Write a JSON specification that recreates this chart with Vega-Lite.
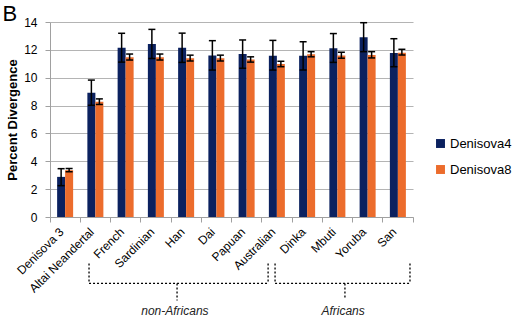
{
  "$schema": "https://vega.github.io/schema/vega-lite/v6.json",
  "autosize": "none",
  "width": 363,
  "height": 195,
  "padding": {"left": 50, "top": 22, "right": 107, "bottom": 109},
  "background": "white",
  "config": {"view": {"stroke": null}, "font": "Liberation Sans"},
  "datasets": {
    "bars": [
      {"pop": "Denisova 3", "series": "Denisova4", "value": 2.88, "lo": 2.25, "hi": 3.47},
      {"pop": "Denisova 3", "series": "Denisova8", "value": 3.36, "lo": 3.25, "hi": 3.48},
      {"pop": "Altai Neandertal", "series": "Denisova4", "value": 8.92, "lo": 8.02, "hi": 9.83},
      {"pop": "Altai Neandertal", "series": "Denisova8", "value": 8.27, "lo": 8.08, "hi": 8.48},
      {"pop": "French", "series": "Denisova4", "value": 12.16, "lo": 11.12, "hi": 13.19},
      {"pop": "French", "series": "Denisova8", "value": 11.47, "lo": 11.27, "hi": 11.7},
      {"pop": "Sardinian", "series": "Denisova4", "value": 12.42, "lo": 11.38, "hi": 13.47},
      {"pop": "Sardinian", "series": "Denisova8", "value": 11.47, "lo": 11.27, "hi": 11.7},
      {"pop": "Han", "series": "Denisova4", "value": 12.16, "lo": 11.1, "hi": 13.2},
      {"pop": "Han", "series": "Denisova8", "value": 11.4, "lo": 11.2, "hi": 11.62},
      {"pop": "Dai", "series": "Denisova4", "value": 11.6, "lo": 10.55, "hi": 12.66},
      {"pop": "Dai", "series": "Denisova8", "value": 11.4, "lo": 11.2, "hi": 11.62},
      {"pop": "Papuan", "series": "Denisova4", "value": 11.7, "lo": 10.68, "hi": 12.71},
      {"pop": "Papuan", "series": "Denisova8", "value": 11.3, "lo": 11.12, "hi": 11.5},
      {"pop": "Australian", "series": "Denisova4", "value": 11.58, "lo": 10.55, "hi": 12.68},
      {"pop": "Australian", "series": "Denisova8", "value": 10.98, "lo": 10.79, "hi": 11.18},
      {"pop": "Dinka", "series": "Denisova4", "value": 11.58, "lo": 10.55, "hi": 12.59},
      {"pop": "Dinka", "series": "Denisova8", "value": 11.68, "lo": 11.5, "hi": 11.87},
      {"pop": "Mbuti", "series": "Denisova4", "value": 12.11, "lo": 11.1, "hi": 13.17},
      {"pop": "Mbuti", "series": "Denisova8", "value": 11.6, "lo": 11.4, "hi": 11.83},
      {"pop": "Yoruba", "series": "Denisova4", "value": 12.9, "lo": 11.87, "hi": 13.95},
      {"pop": "Yoruba", "series": "Denisova8", "value": 11.63, "lo": 11.42, "hi": 11.87},
      {"pop": "San", "series": "Denisova4", "value": 11.78, "lo": 10.79, "hi": 12.8},
      {"pop": "San", "series": "Denisova8", "value": 11.8, "lo": 11.63, "hi": 12.04}
    ],
    "brackets": [
      {"group": "non-Africans", "x": 1.29, "x2": 1.29, "y": -3.33, "y2": -4.77},
      {"group": "non-Africans", "x": 7.21, "x2": 7.21, "y": -3.33, "y2": -4.77},
      {"group": "non-Africans", "x": 1.29, "x2": 7.21, "y": -4.77, "y2": -4.77},
      {"group": "non-Africans", "x": 4.2, "x2": 4.2, "y": -4.77, "y2": -6.0},
      {"group": "Africans", "x": 7.44, "x2": 7.44, "y": -3.33, "y2": -4.77},
      {"group": "Africans", "x": 11.9, "x2": 11.9, "y": -3.33, "y2": -4.77},
      {"group": "Africans", "x": 7.44, "x2": 11.9, "y": -4.77, "y2": -4.77},
      {"group": "Africans", "x": 9.75, "x2": 9.75, "y": -4.77, "y2": -5.8}
    ],
    "groupLabels": [
      {"label": "non-Africans", "x": 4.13, "y": -6.75},
      {"label": "Africans", "x": 9.69, "y": -6.75}
    ],
    "panel": [
      {"label": "B", "x": -1.57, "y": 14.1}
    ]
  },
  "layer": [
    {
      "data": {"name": "bars"},
      "layer": [
        {
          "mark": {"type": "bar"},
          "encoding": {
            "x": {"field": "pop", "type": "nominal", "sort": null,
              "scale": {"paddingInner": 0, "paddingOuter": 0},
              "axis": {"title": null, "bandPosition": 1, "tickExtra": true, "labelOffset": -7, "labelAngle": -45, "labelFontSize": 12, "labelColor": "black", "labelFont": "Liberation Sans", "domainColor": "#a0a0a0", "tickColor": "#a0a0a0", "tickSize": 5, "labelPadding": 4, "grid": false}},
            "xOffset": {"field": "series", "type": "nominal", "scale": {"paddingInner": 0, "paddingOuter": 0.89}},
            "y": {"field": "value", "type": "quantitative",
              "scale": {"domain": [0, 14], "nice": false},
              "axis": {"title": "Percent Divergence", "titleFontSize": 13, "titleFontWeight": "bold", "titleColor": "black", "titlePadding": 4, "values": [0, 2, 4, 6, 8, 10, 12, 14], "tickCount": 8, "labelOverlap": false, "labelFontSize": 12, "labelColor": "black", "labelPadding": 8, "tickSize": 5, "tickColor": "#a0a0a0", "domainColor": "#a0a0a0", "gridColor": "#b4b4b4", "gridWidth": 1.2}},
            "color": {"field": "series", "type": "nominal",
              "scale": {"domain": ["Denisova4", "Denisova8"], "range": ["#0b215f", "#ec6c2c"]},
              "legend": {"title": null, "orient": "none", "legendX": 384, "legendY": 115, "symbolType": "square", "symbolSize": 80, "symbolStrokeWidth": 0, "symbolOpacity": 1, "labelFontSize": 13, "labelColor": "black", "rowPadding": 12, "labelOffset": 3}}
          }
        },
        {
          "mark": {"type": "rule", "color": "black", "strokeWidth": 1.5},
          "encoding": {
            "x": {"field": "pop", "type": "nominal", "sort": null},
            "xOffset": {"field": "series", "type": "nominal"},
            "y": {"field": "lo", "type": "quantitative", "axis": {"title": "Percent Divergence", "values": [0, 2, 4, 6, 8, 10, 12, 14], "tickCount": 8, "labelOverlap": false}},
            "y2": {"field": "hi"}
          }
        },
        {
          "mark": {"type": "tick", "color": "black", "thickness": 1.5, "size": 7, "opacity": 1},
          "encoding": {
            "x": {"field": "pop", "type": "nominal", "sort": null},
            "xOffset": {"field": "series", "type": "nominal"},
            "y": {"field": "lo", "type": "quantitative", "axis": {"title": "Percent Divergence", "values": [0, 2, 4, 6, 8, 10, 12, 14], "tickCount": 8, "labelOverlap": false}}
          }
        },
        {
          "mark": {"type": "tick", "color": "black", "thickness": 1.5, "size": 7, "opacity": 1},
          "encoding": {
            "x": {"field": "pop", "type": "nominal", "sort": null},
            "xOffset": {"field": "series", "type": "nominal"},
            "y": {"field": "hi", "type": "quantitative", "axis": {"title": "Percent Divergence", "values": [0, 2, 4, 6, 8, 10, 12, 14], "tickCount": 8, "labelOverlap": false}}
          }
        }
      ]
    },
    {
      "data": {"name": "brackets"},
      "mark": {"type": "rule", "color": "black", "strokeWidth": 1.3, "strokeDash": [2, 2]},
      "encoding": {
        "x": {"field": "x", "type": "quantitative", "scale": {"domain": [0, 12], "nice": false, "zero": false}, "axis": null},
        "x2": {"field": "x2"},
        "y": {"field": "y", "type": "quantitative", "axis": {"title": "Percent Divergence", "values": [0, 2, 4, 6, 8, 10, 12, 14], "tickCount": 8, "labelOverlap": false}},
        "y2": {"field": "y2"}
      }
    },
    {
      "data": {"name": "groupLabels"},
      "mark": {"type": "text", "fontStyle": "italic", "fontSize": 12, "color": "#222", "font": "Liberation Sans", "baseline": "middle", "align": "center"},
      "encoding": {
        "x": {"field": "x", "type": "quantitative", "scale": {"domain": [0, 12], "nice": false, "zero": false}, "axis": null},
        "y": {"field": "y", "type": "quantitative", "axis": {"title": "Percent Divergence", "values": [0, 2, 4, 6, 8, 10, 12, 14], "tickCount": 8, "labelOverlap": false}},
        "text": {"field": "label"}
      }
    },
    {
      "data": {"name": "panel"},
      "mark": {"type": "text", "fontSize": 22, "color": "black", "font": "Liberation Sans", "baseline": "alphabetic", "align": "left"},
      "encoding": {
        "x": {"field": "x", "type": "quantitative", "scale": {"domain": [0, 12], "nice": false, "zero": false}, "axis": null},
        "y": {"field": "y", "type": "quantitative", "axis": {"title": "Percent Divergence", "values": [0, 2, 4, 6, 8, 10, 12, 14], "tickCount": 8, "labelOverlap": false}},
        "text": {"field": "label"}
      }
    }
  ],
  "resolve": {"scale": {"x": "independent"}}
}
